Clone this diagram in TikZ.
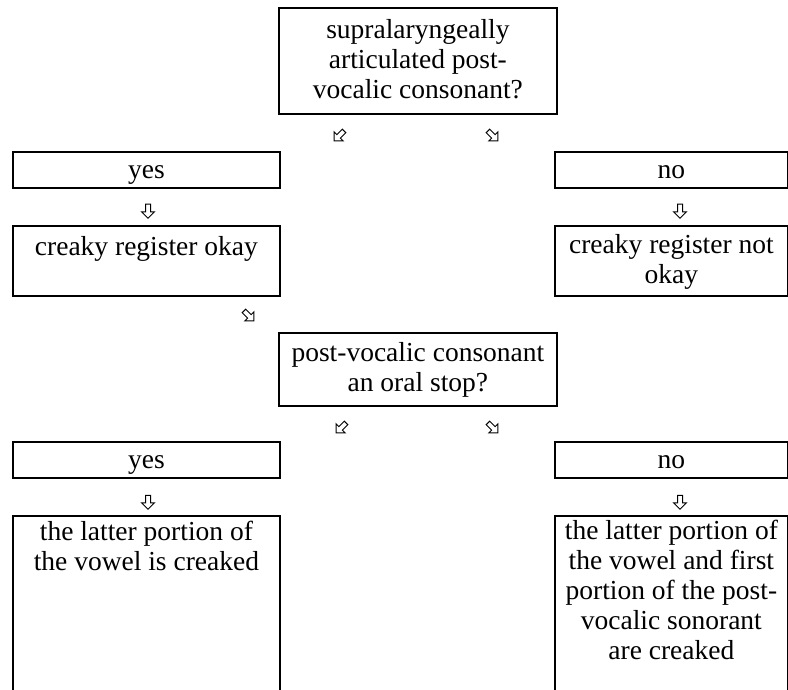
\documentclass[tikz,border=0pt]{standalone}
\usepackage{fontspec}
\setmainfont{Liberation Serif}
\usetikzlibrary{shapes.arrows}
\begin{document}
\begin{tikzpicture}[x=1pt,y=-1pt,
  box/.style={draw, line width=1.8pt, rectangle, inner sep=0pt, anchor=north west},
  txt/.style={anchor=north, inner sep=0pt, align=center,
    font=\fontsize{27.5}{30}\selectfont, execute at begin node=\strut},
  hollow/.style={single arrow, draw, line width=1pt, inner sep=2pt,
    minimum height=14pt, single arrow head extend=3.8pt,
    single arrow head indent=0pt},
  arrS/.style={hollow, rotate=-90},
  arrSE/.style={hollow, rotate=-45},
  arrSW/.style={hollow, rotate=-135}]
\useasboundingbox (0,0) rectangle (788,690);
\clip (0,0) rectangle (788,690);

% first question
\node[box, minimum width=278pt, minimum height=106pt] (q1) at (278,7) {};
\node[txt] (q1t) at ([yshift=-12pt]q1.north)
  {supralaryngeally\\articulated post-\\vocalic consonant?};
\node[arrSW] (a1) at (340,135) {};
\node[arrSE] (a2) at (492,135) {};

% first answers
\node[box, minimum width=267pt, minimum height=36pt] (yes1) at (12,151) {};
\node[txt] (yes1t) at ([yshift=-6pt]yes1.north) {yes};
\node[box, minimum width=233pt, minimum height=36pt] (no1) at (554,151) {};
\node[txt] (no1t) at ([yshift=-6pt]no1.north) {no};
\node[arrS] (a3) at (148,210) {};
\node[arrS] (a4) at (680,210) {};
\node[box, minimum width=267pt, minimum height=70pt] (ok1) at (12,225) {};
\node[txt] (ok1t) at ([yshift=-9pt]ok1.north) {creaky register okay};
\node[box, minimum width=233pt, minimum height=70pt] (nok1) at (554,225) {};
\node[txt] (nok1t) at ([yshift=-9pt]nok1.north) {creaky register not\\okay};
\node[arrSE] (a5) at (248,315) {};

% second question
\node[box, minimum width=278pt, minimum height=73pt] (q2) at (278,332) {};
\node[txt] (q2t) at ([yshift=-10pt]q2.north)
  {post-vocalic consonant\\an oral stop?};
\node[arrSW] (a6) at (342,427) {};
\node[arrSE] (a7) at (492,427) {};

% second answers
\node[box, minimum width=267pt, minimum height=36pt] (yes2) at (12,441) {};
\node[txt] (yes2t) at ([yshift=-6pt]yes2.north) {yes};
\node[box, minimum width=233pt, minimum height=36pt] (no2) at (554,441) {};
\node[txt] (no2t) at ([yshift=-6pt]no2.north) {no};
\node[arrS] (a8) at (148,501) {};
\node[arrS] (a9) at (680,501) {};
\node[box, minimum width=267pt, minimum height=260pt] (res1) at (12,515) {};
\node[txt] (res1t) at ([yshift=-6pt]res1.north)
  {the latter portion of\\the vowel is creaked};
\node[box, minimum width=233pt, minimum height=260pt] (res2) at (554,515) {};
\node[txt] (res2t) at ([yshift=-5pt]res2.north)
  {the latter portion of\\the vowel and first\\portion of the post-\\vocalic sonorant\\are creaked};
\end{tikzpicture}
\end{document}
